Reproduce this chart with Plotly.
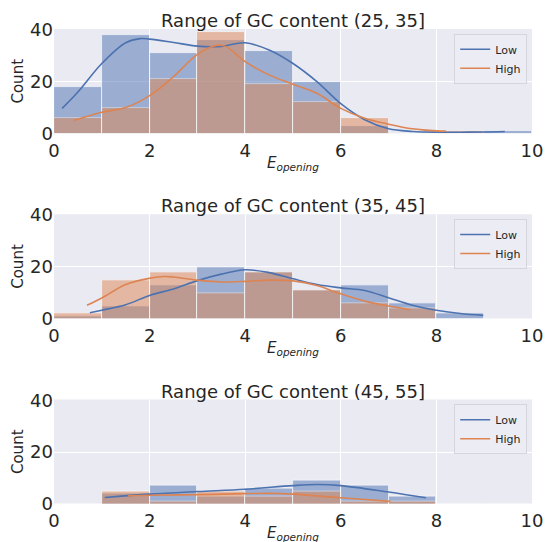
import plotly.graph_objects as go
from plotly.subplots import make_subplots

# ---------------- data ----------------
bin_edges = [0, 1, 2, 3, 4, 5, 6, 7, 8, 9, 10]
panel_titles = ["Range of GC content (25, 35]",
                "Range of GC content (35, 45]",
                "Range of GC content (45, 55]"]
series_names = ["Low", "High"]

# histogram counts per unit bin
low_counts_1 = [18, 38, 31, 36, 32, 20, 3, 0, 0, 1]
high_counts_1 = [6, 10, 21, 39, 19, 12, 6, 0, 1, 0]
low_counts_2 = [1, 5, 13, 20, 18, 11, 13, 6, 2, 0]
high_counts_2 = [2, 15, 18, 10, 18, 11, 6, 4, 0, 0]
low_counts_3 = [0, 4, 7, 3, 6, 9, 7, 3, 0, 0]
high_counts_3 = [0, 5, 1, 5, 3, 5, 1, 1, 0, 0]

# KDE curves
low_kde_x_1 = [0.17, 0.5, 1, 1.5, 1.8, 2, 2.5, 3, 3.5, 4, 4.5, 5, 5.5, 6, 6.5, 7, 7.5, 8, 8.5, 9, 9.43]
low_kde_y_1 = [9.7, 16, 27, 35, 36.6, 36.4, 35.1, 33.7, 33.6, 35, 32.2, 27, 20, 11.5, 5.3, 1.8, 0.8, 0.5, 0.5, 0.6, 0.8]
high_kde_x_1 = [0.41, 1, 1.5, 2, 2.5, 3, 3.4, 3.6, 4, 4.5, 5, 5.5, 6, 6.5, 7, 7.5, 8, 8.2]
high_kde_y_1 = [5, 8.2, 10, 14.6, 21.9, 30.5, 34, 33.5, 27.7, 22.6, 19, 15.5, 9.7, 5.9, 3.6, 1.8, 1.0, 0.9]

low_kde_x_2 = [0.75, 1, 1.5, 2, 2.5, 3, 3.5, 4, 4.5, 5, 5.5, 6, 6.5, 7, 7.5, 8, 8.5, 8.98]
low_kde_y_2 = [2.3, 3.3, 5.4, 9, 11.5, 14.7, 17.2, 18.9, 17.8, 15.4, 13.2, 11.9, 10.9, 8.1, 5.2, 3.3, 2, 1.3]
high_kde_x_2 = [0.69, 1, 1.5, 2, 2.3, 2.5, 3, 3.5, 4, 4.5, 5, 5.5, 6, 6.5, 7, 7.45]
high_kde_y_2 = [5.2, 8, 13.2, 15.6, 16.3, 16.1, 14.9, 14.2, 14.4, 14.9, 14.6, 12.8, 9.6, 6.8, 4.9, 3.5]

low_kde_x_3 = [1.06, 2, 3, 4, 5, 5.5, 6, 7, 7.78]
low_kde_y_3 = [2.5, 3.8, 4.8, 5.7, 7.1, 7.5, 7.1, 4.6, 2.4]
high_kde_x_3 = [1.55, 2, 3, 4, 4.5, 5, 6, 7.04]
high_kde_y_3 = [3.2, 3.4, 3.6, 4.0, 4.1, 3.8, 2.4, 1.0]

x_ticks = [0, 2, 4, 6, 8, 10]
y_ticks = [0, 20, 40]

# ---------------- style ----------------
FONT = "DejaVu Sans, Noto Sans, sans-serif"
BLUE = "#4C72B0"
ORANGE = "#DD8452"
BG = "#EAEAF2"
TXT = "#262626"

panels = [
    (low_counts_1, high_counts_1, low_kde_x_1, low_kde_y_1, high_kde_x_1, high_kde_y_1),
    (low_counts_2, high_counts_2, low_kde_x_2, low_kde_y_2, high_kde_x_2, high_kde_y_2),
    (low_counts_3, high_counts_3, low_kde_x_3, low_kde_y_3, high_kde_x_3, high_kde_y_3),
]

domains = [[0.78, 1.0], [0.39, 0.61], [0.0, 0.22]]
legend_names = ["legend", "legend2", "legend3"]

centers = [(bin_edges[i] + bin_edges[i + 1]) / 2 for i in range(len(bin_edges) - 1)]
widths = [bin_edges[i + 1] - bin_edges[i] for i in range(len(bin_edges) - 1)]

fig = make_subplots(rows=3, cols=1)

for i, (lc, hc, lkx, lky, hkx, hky) in enumerate(panels):
    r = i + 1
    lg = legend_names[i]
    for counts, color in ((lc, BLUE), (hc, ORANGE)):
        fig.add_trace(go.Bar(x=centers, y=counts, width=widths,
                             marker=dict(color=color, line=dict(color="white", width=0.8)),
                             opacity=0.5, showlegend=False, legend=lg, hoverinfo="skip"),
                      row=r, col=1)
    fig.add_trace(go.Scatter(x=lkx, y=lky, mode="lines", line=dict(color=BLUE, width=1.6, shape="spline"),
                             name=series_names[0], legend=lg), row=r, col=1)
    fig.add_trace(go.Scatter(x=hkx, y=hky, mode="lines", line=dict(color=ORANGE, width=1.6, shape="spline"),
                             name=series_names[1], legend=lg), row=r, col=1)

fig.update_layout(
    width=545, height=542,
    margin=dict(l=54, r=13, t=29, b=38, autoexpand=False),
    paper_bgcolor="white", plot_bgcolor=BG,
    barmode="overlay", bargap=0,
    font=dict(family=FONT, color=TXT),
    showlegend=True,
)

legend_tops = [0.99, 0.60, 0.21]
for i, lg in enumerate(legend_names):
    fig.update_layout(**{lg: dict(x=0.99, y=legend_tops[i], xanchor="right", yanchor="top",
                                  bgcolor="rgba(236,236,244,0.85)", bordercolor="#d5d5dd", borderwidth=1,
                                  font=dict(size=11, family=FONT, color=TXT),
                                  itemwidth=30, tracegroupgap=0)})

for i in range(3):
    r = i + 1
    fig.update_xaxes(row=r, col=1, range=[0, 10], tickvals=x_ticks, showgrid=True, gridcolor="white",
                     gridwidth=1, zeroline=False, ticks="", showline=False, automargin=False,
                     ticklabelstandoff=4,
                     tickfont=dict(size=18, family=FONT, color=TXT))
    fig.update_yaxes(row=r, col=1, range=[0, 40.3], tickvals=y_ticks, showgrid=True, gridcolor="white",
                     gridwidth=1, zeroline=False, ticks="", showline=False, domain=domains[i],
                     automargin=False,
                     tickfont=dict(size=18, family=FONT, color=TXT),
                     title=dict(text="Count", font=dict(size=15, family=FONT, color=TXT), standoff=2))
    fig.add_annotation(text=panel_titles[i], xref="paper", yref="paper", x=0.5, y=domains[i][1],
                       xanchor="center", yanchor="bottom", showarrow=False, yshift=-4,
                       font=dict(size=18, family=FONT, color=TXT))
    fig.add_annotation(text="<i>E</i><sub><i>opening</i></sub>", xref="paper", yref="paper",
                       x=0.5, y=domains[i][0], xanchor="center", yanchor="top", showarrow=False, yshift=-18,
                       font=dict(size=15, family=FONT, color=TXT))

fig.write_html("out.html", config={"displayModeBar": False},
               post_script="document.body.style.margin='0';document.body.style.overflow='hidden';")
